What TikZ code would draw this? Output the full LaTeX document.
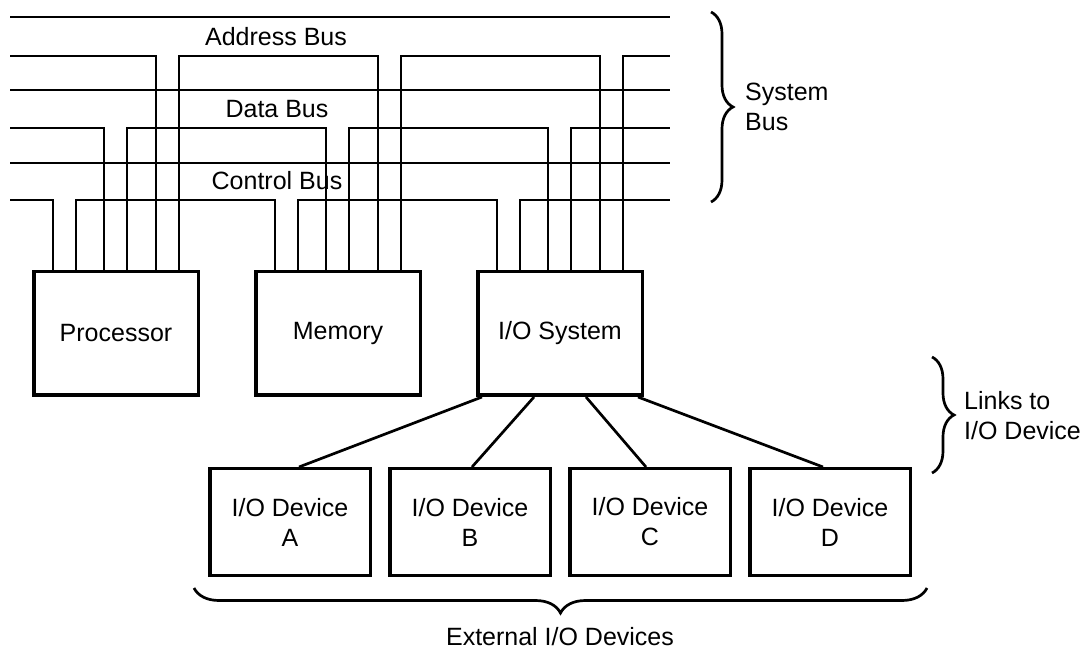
\documentclass[tikz,border=0pt]{standalone}
\usepackage{fontspec}
\setmainfont{Liberation Sans}
\usepackage{tikz}
\usetikzlibrary{positioning, calc, decorations.pathreplacing}
\tikzset{
  unit/.style  ={rectangle, draw=black, line width=3.5pt, inner sep=0pt,
                 minimum width=164.5pt, minimum height=123.5pt, align=center,
                 font=\fontsize{25}{30}\selectfont},
  dev/.style   ={rectangle, draw=black, line width=3.5pt, inner sep=0pt,
                 minimum width=160.5pt, minimum height=106.5pt, align=center,
                 font=\fontsize{25}{30}\selectfont},
  bus/.style   ={line width=2.7pt, black},
  link/.style  ={line width=2.7pt, black},
  brc/.style   ={decorate, decoration={brace, amplitude=22pt},
                 line width=2.7pt, black},
  lbl/.style   ={font=\fontsize{25}{30}\selectfont, inner sep=0pt, text=black}
}

\begin{document}
\begin{tikzpicture}[x=1pt, y=-1pt]
\useasboundingbox (0,0) rectangle (1088,652);

% units hanging on the system bus
\node[unit] (proc) at (116,333.5) {Processor};
\node[unit, right=54pt of proc] (mem) {Memory};
\node[unit, right=54pt of mem] (io) {I/O System};

% tap points on top of each unit: control, data, address
\foreach \bx in {proc,mem,io}{
  \coordinate (\bx-c1) at ([xshift=21pt]\bx.north west);
  \coordinate (\bx-c2) at ([xshift=44pt]\bx.north west);
  \coordinate (\bx-d1) at ([xshift=72pt]\bx.north west);
  \coordinate (\bx-d2) at ([xshift=95pt]\bx.north west);
  \coordinate (\bx-a1) at ([xshift=124pt]\bx.north west);
  \coordinate (\bx-a2) at ([xshift=147pt]\bx.north west);
}

\coordinate (addr-l) at (10,56);  \coordinate (addr-r) at (670,56);
\coordinate (data-l) at (10,128); \coordinate (data-r) at (670,128);
\coordinate (ctrl-l) at (10,200); \coordinate (ctrl-r) at (670,200);

% address bus
\draw[bus] (10,17) -- (670,17);
\node[lbl, anchor=base] (addrlbl) at (276,46) {Address Bus};
\draw[bus] (addr-l) -| (proc-a1)
  (proc-a2) |- (mem-a1 |- addr-l) -- (mem-a1)
  (mem-a2) |- (io-a1 |- addr-l) -- (io-a1)
  (io-a2) |- (addr-r);

% data bus
\draw[bus] (10,90) -- (670,90);
\node[lbl, anchor=base] (datalbl) at (277,118) {Data Bus};
\draw[bus] (data-l) -| (proc-d1)
  (proc-d2) |- (mem-d1 |- data-l) -- (mem-d1)
  (mem-d2) |- (io-d1 |- data-l) -- (io-d1)
  (io-d2) |- (data-r);

% control bus
\draw[bus] (10,163) -- (670,163);
\node[lbl, anchor=base] (ctrllbl) at (277,190) {Control Bus};
\draw[bus] (ctrl-l) -| (proc-c1)
  (proc-c2) |- (mem-c1 |- ctrl-l) -- (mem-c1)
  (mem-c2) |- (io-c1 |- ctrl-l) -- (io-c1)
  (io-c2) |- (ctrl-r);

\coordinate (sb-top) at (711,12);
\coordinate (sb-bot) at (711,202);
\draw[brc] (sb-top) -- (sb-bot);
\node[lbl, anchor=west, align=left] (sblbl) at (745,107) {System\\Bus};

% external devices
\node[dev] (devA) at (290,522) {I/O Device\\A};
\node[dev, right=16pt of devA] (devB) {I/O Device\\B};
\node[dev, right=16pt of devB] (devC) {I/O Device\\C};
\node[dev, right=16pt of devC] (devD) {I/O Device\\D};

\draw[link] ([xshift=-78pt]io.south) -- ([xshift=9pt]devA.north);
\draw[link] ([xshift=-26pt]io.south) -- ([xshift=2pt]devB.north);
\draw[link] ([xshift=26pt]io.south) -- ([xshift=-4pt]devC.north);
\draw[link] ([xshift=78pt]io.south) -- ([xshift=-7pt]devD.north);

\coordinate (lk-top) at (932,357);
\coordinate (lk-bot) at (932,473);
\draw[brc] (lk-top) -- (lk-bot);
\node[lbl, anchor=west, align=left] (lklbl) at (964,416) {Links to\\I/O Device};

\coordinate (ext-r) at (927,588);
\coordinate (ext-l) at (194,588);
\draw[brc, decoration={amplitude=25pt}] (ext-r) -- (ext-l);
\node[lbl, anchor=base] (extlbl) at (560,645) {External I/O Devices};

\end{tikzpicture}
\end{document}
